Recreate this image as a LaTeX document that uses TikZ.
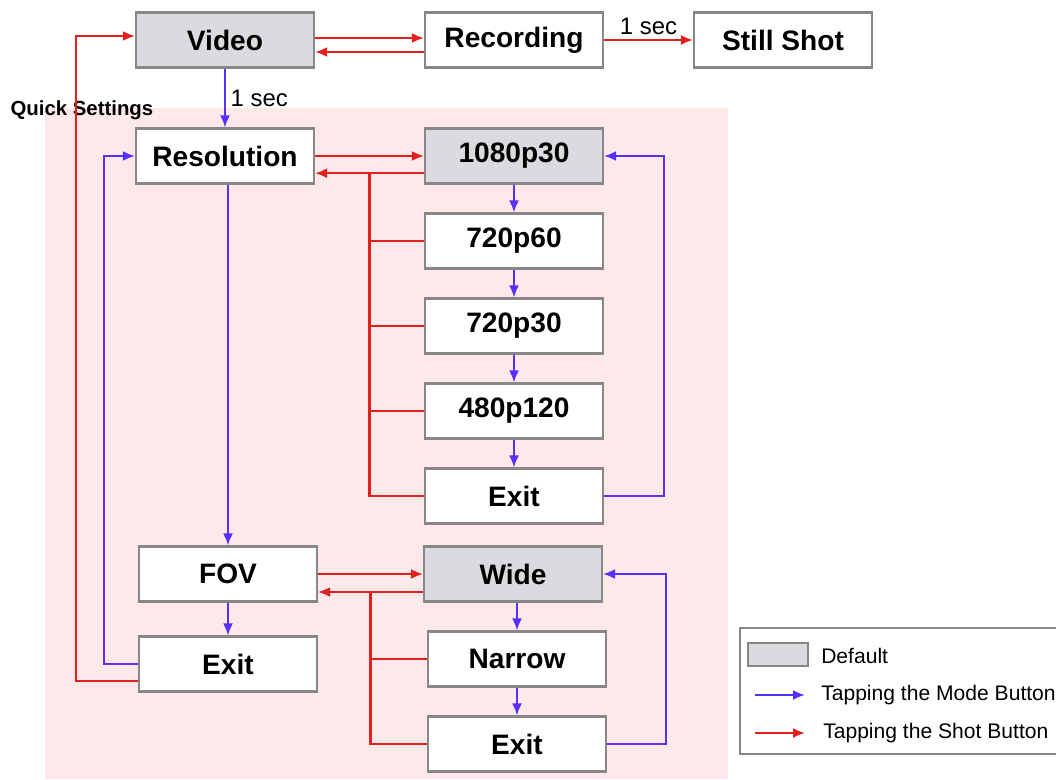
\documentclass[tikz,border=0pt]{standalone}
\usepackage{fontspec}
\setmainfont{Liberation Sans}
\usepackage{tikz}
\usetikzlibrary{shapes.geometric, arrows, arrows.meta, positioning, calc}
\definecolor{pinkbg}{RGB}{253,233,234}
\definecolor{defgray}{RGB}{217,219,222}
\definecolor{boxgray}{RGB}{135,135,135}
\definecolor{shotred}{RGB}{225,32,32}
\definecolor{modeblue}{RGB}{88,48,250}
\tikzstyle{setting} = [rectangle, minimum width=4.45cm, minimum height=1.375cm, text centered, draw=boxgray, line width=1.5pt, fill=white, font=\fontsize{20}{22}\selectfont\bfseries]
\tikzstyle{default} = [setting, fill=defgray]
\tikzstyle{mode} = [line width=1.5pt, -{Latex[length=3mm, width=2.5mm]}, draw=modeblue]
\tikzstyle{shot} = [line width=1.5pt, -{Latex[length=3mm, width=2.5mm]}, draw=shotred]
\tikzstyle{note} = [font=\fontsize{17}{20}\selectfont]
\tikzstyle{legendtext} = [anchor=west, font=\fontsize{15}{18}\selectfont]

\begin{document}
\begin{tikzpicture}[node distance=2.125cm, thick]
    \useasboundingbox (0,0) rectangle (26.4,-19.475);
    \fill [pinkbg] (1.125,-2.7) rectangle (18.2,-19.475);

    \node (video) [default] at (5.625,-1.0) {Video};
    \node (recording) [setting, right of=video, xshift=5.1cm] {Recording};
    \node (still) [setting, right of=recording, xshift=4.6cm] {Still Shot};
    \node (quick) [anchor=west, font=\fontsize{14.5}{17}\selectfont\bfseries, inner sep=0pt] at (0.25,-2.75) {Quick Settings};

    \node (resolution) [setting, below of=video, yshift=-0.775cm] {Resolution};
    \node (r1080) [default, right of=resolution, xshift=5.1cm] {1080p30};
    \node (r720a) [setting, below of=r1080] {720p60};
    \node (r720b) [setting, below of=r720a] {720p30};
    \node (r480) [setting, below of=r720b] {480p120};
    \node (rexit) [setting, below of=r480] {Exit};

    \node (fov) [setting, below of=resolution, xshift=0.075cm, yshift=-8.325cm] {FOV};
    \node (wide) [default, right of=fov, xshift=5.0cm] {Wide};
    \node (narrow) [setting, below of=wide, xshift=0.1cm] {Narrow};
    \node (fexit) [setting, below of=narrow] {Exit};
    \node (exit) [setting, below of=fov, yshift=-0.125cm] {Exit};

    % top row
    \draw [shot] ([yshift=0.05cm]video.east) -- ([yshift=0.05cm]recording.west);
    \draw [shot] ([yshift=-0.3cm]recording.west) -- ([yshift=-0.3cm]video.east);
    \draw [shot] (recording.east) -- node [above, note] {1 sec} (still.west);
    \draw [mode] (video.south) -- node [right, note] {1 sec} (resolution.north);

    % resolution menu
    \coordinate (resbus) at ($(resolution.east)!0.5!(r1080.west) + (0,-0.43)$);
    \draw [shot] (resolution.east) -- (r1080.west);
    \draw [shot] ([yshift=-0.43cm]r1080.west) -- ([yshift=-0.43cm]resolution.east);
    \draw [shot, -] (rexit.west) -| (resbus);
    \draw [shot, -] (r720a.west) -- (r720a.west -| resbus);
    \draw [shot, -] (r720b.west) -- (r720b.west -| resbus);
    \draw [shot, -] (r480.west) -- (r480.west -| resbus);
    \draw [mode] (r1080) -- (r720a);
    \draw [mode] (r720a) -- (r720b);
    \draw [mode] (r720b) -- (r480);
    \draw [mode] (r480) -- (rexit);
    \draw [mode] (rexit.east) -- ++(1.5,0) |- (r1080.east);

    % fov menu
    \coordinate (fovbus) at ($(fov.east)!0.5!(wide.west) + (0,-0.45)$);
    \draw [mode] (fov.north |- resolution.south) -- (fov.north);
    \draw [shot] (fov.east) -- (wide.west);
    \draw [shot] ([yshift=-0.45cm]wide.west) -- ([yshift=-0.45cm]fov.east);
    \draw [shot, -] (fexit.west) -| (fovbus);
    \draw [shot, -] (narrow.west) -- (narrow.west -| fovbus);
    \draw [mode] (wide.south -| narrow.north) -- (narrow.north);
    \draw [mode] (narrow) -- (fexit);
    \draw [mode] (fexit.east) -- ++(1.475,0) |- (wide.east);
    \draw [mode] (fov) -- (exit);

    % leaving quick settings
    \draw [mode] (exit.west) -- ++(-0.85,0) |- (resolution.west);
    \draw [shot] ([yshift=-0.43cm]exit.west) -- ++(-1.55,0) |- ([yshift=0.1cm]video.west);

    % legend
    \draw [boxgray, line width=1pt] (18.5,-15.7) rectangle (26.7,-18.85);
    \node (swatch) [draw=boxgray, fill=defgray, line width=1pt, minimum width=1.5cm, minimum height=0.575cm] at (19.45,-16.36) {};
    \node (ldefault) [legendtext] at (20.4,-16.4) {Default};
    \coordinate (lmodea) at (18.875,-17.375);
    \coordinate (lmodeb) at (20.125,-17.375);
    \draw [mode] (lmodea) -- (lmodeb);
    \node (lmode) [legendtext] at (20.4,-17.375) {Tapping the Mode Button};
    \coordinate (lshota) at (18.875,-18.325);
    \coordinate (lshotb) at (20.125,-18.325);
    \draw [shot] (lshota) -- (lshotb);
    \node (lshot) [legendtext] at (20.45,-18.325) {Tapping the Shot Button};
\end{tikzpicture}
\end{document}
